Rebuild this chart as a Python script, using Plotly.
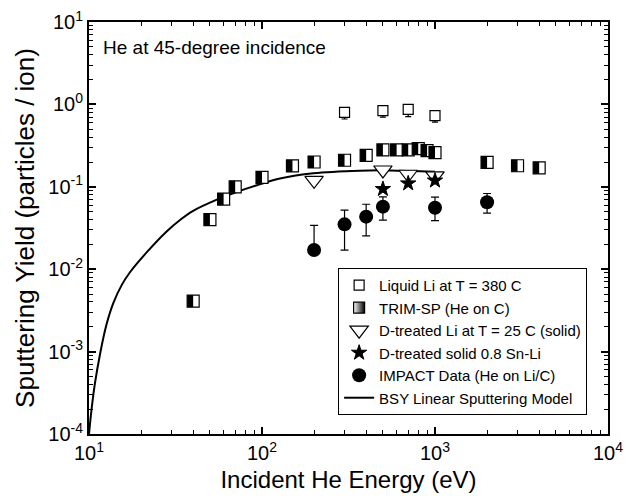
import plotly.graph_objects as go

# ---------------- data ----------------
# Liquid Li at T = 380 C
liq_E = [300, 500, 700, 1000]
liq_Y = [0.80, 0.84, 0.87, 0.73]
liq_err_minus = [0.135, 0.14, 0.16, 0.12]
liq_err_plus = [0.0, 0.0, 0.0, 0.0]

# TRIM-SP (He on C)
trim_E = [40, 50, 60, 70, 100, 150, 200, 300, 400, 500, 600, 700, 800, 900, 1000, 2000, 3000, 4000]
trim_Y = [0.0041, 0.040, 0.071, 0.100, 0.130, 0.179, 0.200, 0.210, 0.240, 0.280, 0.280,
          0.280, 0.290, 0.275, 0.260, 0.198, 0.180, 0.170]

# D-treated Li at T = 25 C (solid)
dli_E = [200, 500, 700, 1000]
dli_Y = [0.120, 0.160, 0.142, 0.136]

# D-treated solid 0.8 Sn-Li
snli_E = [500, 700, 1000]
snli_Y = [0.094, 0.110, 0.119]

# IMPACT Data (He on Li/C)
imp_E = [200, 300, 400, 500, 1000, 2000]
imp_Y = [0.0171, 0.035, 0.0434, 0.0574, 0.0558, 0.0649]
imp_err_plus = [0.017, 0.017, 0.018, 0.018, 0.019, 0.018]
imp_err_minus = [0.0, 0.018, 0.018, 0.018, 0.017, 0.017]

# BSY Linear Sputtering Model (curve)
bsy_E = [10.0, 10.35, 10.8, 11.6, 12.6, 13.8, 15.5, 17.3, 21.6, 28, 34, 40, 54, 72, 97,
         127, 198, 368, 550, 1000]
bsy_Y = [1.0e-4, 2.0e-4, 4.0e-4, 9.5e-4, 2.1e-3, 3.85e-3, 6.5e-3, 9.25e-3, 0.0161, 0.0285,
         0.0404, 0.0512, 0.069, 0.087, 0.107, 0.126, 0.146, 0.157, 0.158, 0.152]

x_tickvals = [10, 100, 1000, 10000]
x_ticktext = ["10<sup>1</sup>", "10<sup>2</sup>", "10<sup>3</sup>", "10<sup>4</sup>"]
y_tickvals = [1e-4, 1e-3, 1e-2, 1e-1, 1, 10]
y_ticktext = ["10<sup>-4</sup>", "10<sup>-3</sup>", "10<sup>-2</sup>", "10<sup>-1</sup>",
              "10<sup>0</sup>", "10<sup>1</sup>"]

FONT = "Liberation Sans, Arial, sans-serif"

fig = go.Figure()

# BSY curve
fig.add_trace(go.Scatter(
    x=bsy_E, y=bsy_Y, mode="lines", name="BSY Linear Sputtering Model",
    line=dict(color="black", width=2, shape="spline", smoothing=1.0),
    legendrank=6))

# Liquid Li
fig.add_trace(go.Scatter(
    x=liq_E, y=liq_Y, mode="markers", name="Liquid Li at T = 380 C",
    marker=dict(symbol="square", size=10, color="white", line=dict(color="black", width=1.2)),
    error_y=dict(type="data", symmetric=False, array=liq_err_plus, arrayminus=liq_err_minus,
                 color="black", thickness=1.2, width=3),
    legendrank=1))

# TRIM-SP: white square + black right half
fig.add_trace(go.Scatter(
    x=[None], y=[None], mode="markers", name="TRIM-SP (He on C)",
    marker=dict(symbol="square", size=11, color="white",
                gradient=dict(type="horizontal", color="black"),
                line=dict(color="black", width=1.2)),
    legendrank=2))
fig.add_trace(go.Scatter(
    x=trim_E, y=trim_Y, mode="markers", showlegend=False, hoverinfo="skip",
    marker=dict(symbol="square", size=12, color="white", line=dict(color="black", width=1.2))))
fig.add_trace(go.Scatter(
    x=trim_E, y=trim_Y, mode="markers", showlegend=False, hoverinfo="skip",
    marker=dict(symbol="line-ew", size=8.6, angle=90, standoff=3,
                line=dict(color="black", width=6))))

# D-treated Li
fig.add_trace(go.Scatter(
    x=dli_E, y=dli_Y, mode="markers", name="D-treated Li at T = 25 C (solid)",
    marker=dict(symbol="triangle-down", size=16, color="white", line=dict(color="black", width=1.2)),
    legendrank=3))

# D-treated Sn-Li
fig.add_trace(go.Scatter(
    x=snli_E, y=snli_Y, mode="markers", name="D-treated solid 0.8 Sn-Li",
    marker=dict(symbol="star", size=11.5, color="black", line=dict(color="black", width=1)),
    legendrank=4))

# IMPACT
fig.add_trace(go.Scatter(
    x=imp_E, y=imp_Y, mode="markers", name="IMPACT Data (He on Li/C)",
    marker=dict(symbol="circle", size=14, color="black"),
    error_y=dict(type="data", symmetric=False, array=imp_err_plus, arrayminus=imp_err_minus,
                 color="black", thickness=1.2, width=4),
    legendrank=5))

axis_common = dict(
    type="log", showline=True, linecolor="black", linewidth=2, mirror="ticks",
    ticks="inside", ticklen=7, tickwidth=1.5, tickcolor="black",
    showgrid=False, zeroline=False, tickmode="array", automargin=False,
    ticklabeloverflow="allow",
    tickfont=dict(family=FONT, size=20, color="black"),
    minor=dict(ticks="inside", ticklen=4, tickwidth=1, tickcolor="black", dtick="D1", showgrid=False),
)

# the page body adds an 8 px offset, so margins are reduced accordingly
fig.update_layout(
    width=632, height=496,
    margin=dict(l=81, r=32, t=14, b=70),
    paper_bgcolor="white", plot_bgcolor="white",
    font=dict(family=FONT, color="black"),
    xaxis=dict(axis_common, range=[1, 4], tickvals=x_tickvals, ticktext=x_ticktext,
               title=dict(text="Incident He Energy (eV)", font=dict(size=24), standoff=8)),
    yaxis=dict(axis_common, range=[-4, 1], tickvals=y_tickvals, ticktext=y_ticktext,
               title=dict(text="Sputtering Yield (particles / ion)", font=dict(size=26), standoff=6)),
    legend=dict(x=0.48, y=0.403, xanchor="left", yanchor="top",
                bordercolor="black", borderwidth=1, bgcolor="white",
                font=dict(family=FONT, size=15), tracegroupgap=0),
    showlegend=True,
    annotations=[dict(text="He at 45-degree incidence", xref="paper", yref="paper",
                      x=0.023, y=0.939, xanchor="left", yanchor="middle", showarrow=False,
                      font=dict(family=FONT, size=19))],
)

fig.write_html("out.html")
